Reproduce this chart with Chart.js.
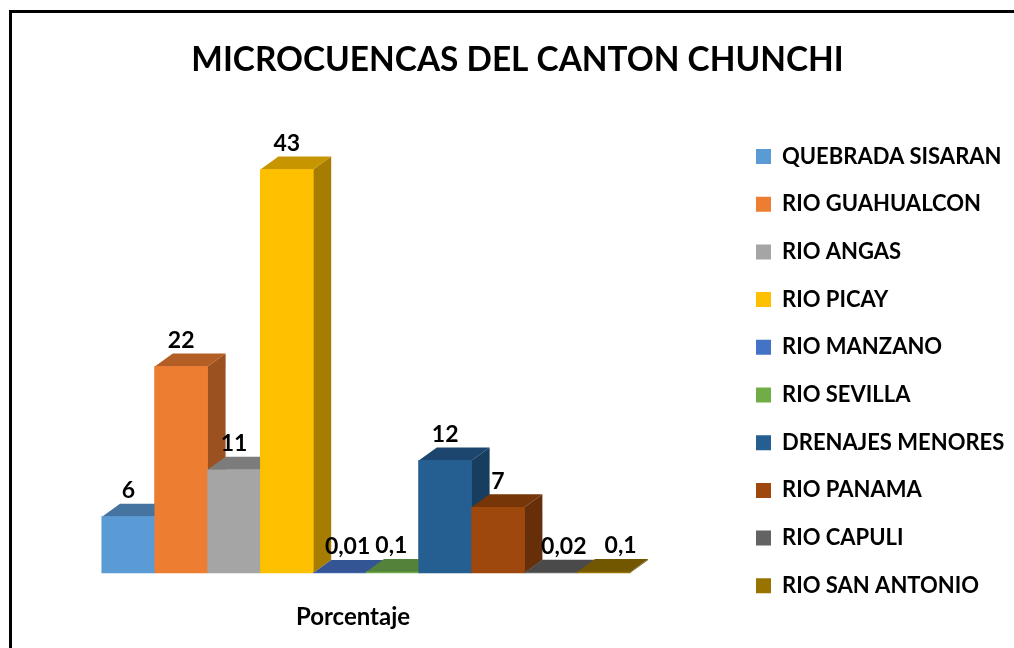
<!DOCTYPE html>
<html><head><meta charset="utf-8">
<style>
html,body{margin:0;padding:0;background:#fff;overflow:hidden;width:1014px;height:648px}
#frame{position:absolute;left:9px;top:10px;width:1005px;height:638px;box-sizing:border-box;border-top:3px solid #000;border-left:3px solid #000}
#wrap{position:absolute;left:21px;top:0;width:993px;height:648px}
</style>
<script src="https://cdn.jsdelivr.net/npm/chart.js@4"></script>
</head><body>
<div id="frame"></div>
<div id="wrap"><canvas id="c" width="993" height="648"></canvas></div>
<script>
const chartTitle = 'MICROCUENCAS DEL CANTON CHUNCHI';
const category = ['Porcentaje'];
const seriesNames = ['QUEBRADA SISARAN','RIO GUAHUALCON','RIO ANGAS','RIO PICAY','RIO MANZANO','RIO SEVILLA','DRENAJES MENORES','RIO PANAMA','RIO CAPULI','RIO SAN ANTONIO'];
const seriesValues = [6,22,11,43,0.01,0.1,12,7,0.02,0.1];
const frontColors = ['#5B9BD5','#ED7D31','#A5A5A5','#FFC000','#4472C4','#70AD47','#255E91','#9E480E','#636363','#997300'];
const topColors = ['#44749F','#B25E25','#7C7C7C','#C69500','#335593','#54823A','#1C466D','#773608','#4A4A4A','#735600'];
const sideColors = ['#3B658A','#9B5120','#6B6B6B','#A67D00','#2C4A80','#497132','#183E5F','#672F09','#404040','#634B00'];
const labelShiftX = [0,0,0,0,8,-1,0,0,13,17];

const DX = 18, DY = 13;
function poly(ctx, pts, color){
  ctx.fillStyle = color; ctx.beginPath();
  pts.forEach((p,i)=> i ? ctx.lineTo(p[0],p[1]) : ctx.moveTo(p[0],p[1]));
  ctx.closePath(); ctx.fill();
}
const depthBars = {
  id:'depthBars',
  beforeDraw(chart){
    const lg = chart.legend, pad = lg.options.labels.padding;
    lg.left = 735 - pad;
    lg.top = 145.5 - pad;
    lg.bottom = 648;
    lg.right = 993;
    chart.titleBlock.left = 0;
    chart.titleBlock.right = 993;
  },
  afterDatasetsDraw(chart){
    const ctx = chart.ctx;
    ctx.save();
    chart.data.datasets.forEach((ds,i)=>{
      const el = chart.getDatasetMeta(i).data[0];
      const hw = el.width/2, l = el.x-hw, r = el.x+hw, t = el.y, b = el.base;
      poly(ctx,[[r,t],[r+DX,t-DY],[r+DX,b-DY],[r,b]],sideColors[i]);
      poly(ctx,[[l,t],[l+DX,t-DY],[r+DX,t-DY],[r,t]],topColors[i]);
      el.draw(ctx);
    });
    ctx.font = 'bold 23px Lato'; ctx.fillStyle = '#000';
    ctx.textAlign = 'center'; ctx.textBaseline = 'middle';
    chart.data.datasets.forEach((ds,i)=>{
      const el = chart.getDatasetMeta(i).data[0];
      ctx.fillText(String(ds.data[0]).replace('.',','), el.x+labelShiftX[i], el.y-DY-13);
    });
    ctx.restore();
  }
};
new Chart(document.getElementById('c'),{
  type:'bar',
  data:{
    labels:category,
    datasets:seriesNames.map((n,i)=>({
      label:n, data:[seriesValues[i]],
      backgroundColor:frontColors[i], barThickness:52.8
    }))
  },
  options:{
    responsive:false, animation:false,
    layout:{padding:{left:21,right:44,top:0,bottom:0}},
    scales:{
      x:{grid:{display:false,drawTicks:false},border:{display:false},
         afterFit(scale){ scale.height = 75; },
         ticks:{padding:30,labelOffset:-13,color:'#000',font:{family:'Lato',weight:'bold',size:24}}},
      y:{display:false,min:0,max:45}
    },
    plugins:{
      title:{display:true,text:chartTitle,color:'#000',
        font:{family:'Lato',weight:'bold',size:33.4},padding:{top:40,bottom:70.7}},
      legend:{position:'right',align:'start',maxWidth:280,
        labels:{boxWidth:15,boxHeight:15,padding:25.7,color:'#000',
          font:{family:'Lato',weight:'bold',size:22}}},
      tooltip:{enabled:false}
    }
  },
  plugins:[depthBars]
});
</script>
</body></html>
